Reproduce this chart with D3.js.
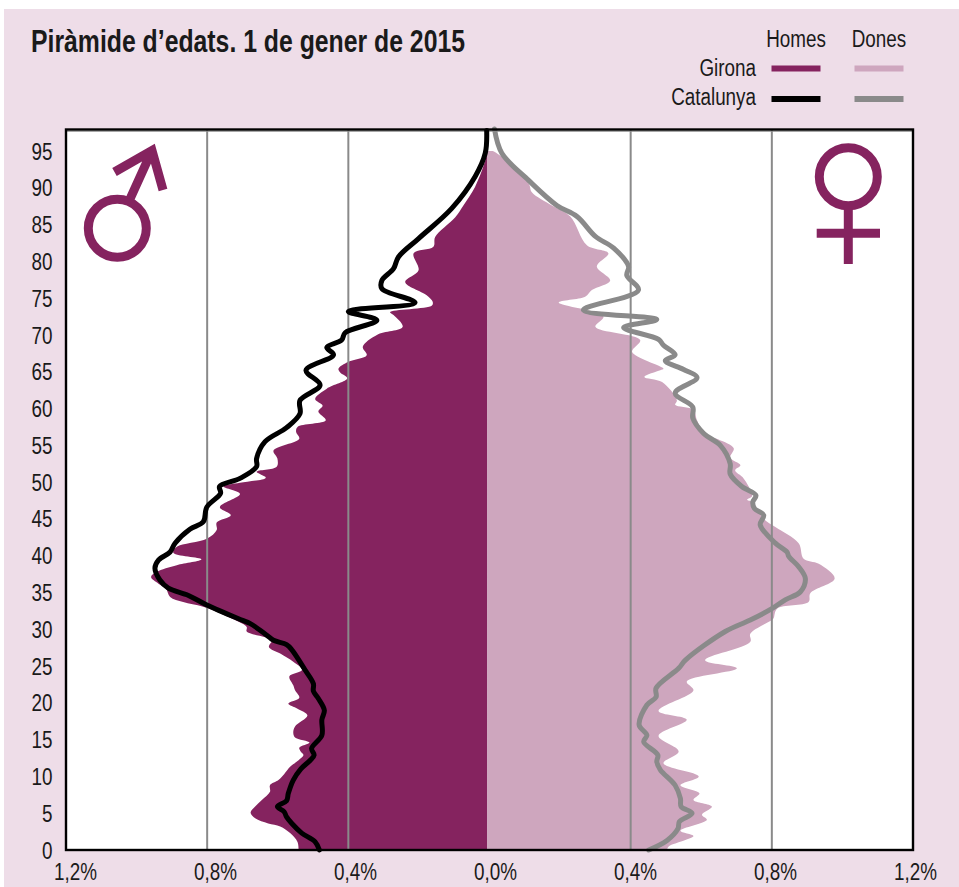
<!DOCTYPE html>
<html><head><meta charset="utf-8">
<style>html,body{margin:0;padding:0;background:#fff}svg{display:block}text{font-family:"Liberation Sans",sans-serif;fill:#1a1a1a}</style>
<script src="https://cdn.jsdelivr.net/npm/d3@7"></script></head><body>
<script>
const chartTitle="Piràmide d’edats. 1 de gener de 2015";
const ageTicks=d3.range(0,96,5);
const pctTicks=[-1.2,-0.8,-0.4,0,0.4,0.8,1.2];
const gridTicks=[-0.8,-0.4,0.4,0.8];
const spine=-0.006;

const gironaMenAge=[0,1.1,2.3,3.2,3.6,4.3,5.1,5.9,6.8,7.9,8.8,9.5,10.3,11.3,12.2,12.9,13.4,13.9,14.6,15.3,15.9,16.8,18.3,19.2,19.9,20.7,21.7,22.4,23.6,24.5,25.6,26.7,27.6,28.5,29.7,30.3,31.25,33.06,33.7,34.4,35.55,36.2,37.1,37.8,38.7,39.5,40.4,41.2,42.3,43.5,44.5,45.5,46.6,48.4,49.4,49.9,50.6,51.4,52.1,53.2,54.3,55.9,56.8,57.5,58.4,59.6,60.4,61.3,62.7,64.1,64.9,65.4,66.35,67.25,68.4,70,71.1,72.7,73.1,74,74.5,75.4,77.2,78.8,81.1,82,83.3,86,87.6,90.1,94,95];
const gironaMen=[.541,.544,.565,.593,.627,.664,.677,.664,.645,.622,.622,.598,.582,.565,.541,.527,.535,.539,.510,.551,.556,.551,.516,.544,.570,.539,.551,.556,.567,.531,.556,.593,.625,.617,.688,.688,.721,.811,.868,.905,.917,.938,.959,.943,.886,.816,.896,.886,.801,.773,.773,.733,.764,.707,.754,.707,.634,.660,.603,.601,.612,.539,.548,.544,.464,.485,.473,.494,.461,.403,.423,.428,.400,.348,.359,.319,.246,.272,.282,.163,.161,.178,.239,.201,.215,.159,.154,.097,.074,.041,.010,.006];

const catalunyaMenAge=[0,1.1,2.3,3.6,4.5,5.2,5.9,6.7,7.7,9.5,11,12.2,12.9,13.8,15.6,17.7,19,20.6,21.6,22.6,24.5,27.2,27.9,28.5,29.2,30.8,31.25,33.3,34.6,35.6,36.7,38.3,39.4,40.5,41.7,43.6,44.6,46.6,48.5,49.4,50.5,52.1,53.2,55.5,57.4,59.3,61.1,63.2,65.2,67.3,68.3,69.3,70.3,72,73.2,74.4,76.3,77.4,79,80.6,83.1,87.2,91.5,94.7,97.8];
const catalunyaMen=[.482,.494,.532,.560,.575,.582,.601,.575,.570,.556,.535,.508,.497,.504,.475,.475,.468,.485,.499,.499,.523,.560,.575,.612,.631,.679,.702,.801,.853,.910,.934,.948,.938,.905,.891,.849,.811,.801,.762,.765,.707,.660,.660,.636,.575,.537,.537,.480,.520,.442,.461,.419,.409,.319,.400,.211,.305,.305,.272,.258,.201,.107,.041,.012,.008];

const gironaWomenAge=[0,.45,1.35,1.9,2.6,4.1,4.8,5.9,6.8,7.7,8.8,10,11.8,13.4,15.5,17.7,18.9,21.7,22.9,24.7,25.8,28.3,29.4,31.25,31.5,32.8,33.7,34.9,36.9,38.9,39.6,41.7,43.9,45,47.3,47.6,48.1,50.5,51.6,52.3,53.3,54.6,55.8,56.4,58.4,59.8,60.5,61.1,63.6,64.3,65.2,65.4,67.7,69.3,71.1,72.5,74.4,75.2,76.1,77.4,79.3,81.1,82.2,86.1,87.6,89.4,90.6,94.2,95];
const gironaWomen=[.503,.507,.555,.578,.541,.616,.602,.630,.578,.595,.541,.593,.493,.536,.479,.559,.479,.578,.559,.701,.611,.739,.739,.800,.805,.815,.904,.909,.978,.933,.890,.876,.810,.777,.744,.730,.744,.720,.696,.711,.682,.692,.649,.611,.588,.578,.526,.531,.489,.439,.484,.493,.404,.427,.300,.323,.196,.271,.290,.342,.304,.337,.276,.229,.177,.120,.111,.035,.010];

const catalunyaWomenAge=[0,1.3,2.9,3.85,5,5.9,7,8.8,10.9,12,12.9,14.7,15.6,17,19.7,20.8,22,24.7,25.8,29.7,31.25,32.8,34,35.1,36.9,38.5,39.9,40.5,41.7,44.2,45.5,46.4,47.3,48.2,49.4,51.1,52.5,55,56.6,58.7,60.2,62.1,64.2,65.3,66.5,67.3,68.6,69.4,71,72.1,73.4,76.1,78.1,79.3,81.8,83.4,86.1,87.6,91,94.7,98];
const catalunyaWomen=[.451,.503,.534,.538,.574,.543,.541,.526,.484,.474,.477,.437,.446,.424,.446,.472,.472,.536,.555,.668,.739,.800,.838,.881,.895,.876,.848,.843,.810,.767,.777,.751,.746,.755,.715,.682,.682,.654,.607,.576,.576,.526,.588,.550,.498,.526,.493,.479,.380,.474,.266,.422,.389,.394,.352,.300,.248,.191,.111,.035,.014];

const colors={panel:"#EEDDE8",girM:"#85235F",girF:"#CEA6BE",catM:"#000",catF:"#8A8A8A",grid:"#8A8A8A"};
const W=959,H=887;
const labelSize="23px";
const narrow="scale(0.82,1)";
const svg=d3.select("body").append("svg").attr("width",W).attr("height",H);
svg.append("rect").attr("x",4).attr("y",9).attr("width",W-4).attr("height",H-9).attr("fill",colors.panel);

const x=d3.scaleLinear().domain([-1.2,1.2]).range([66,913]);
const xLabel=d3.scaleLinear().domain([-1.2,1.2]).range([75,915]);
const y=d3.scaleLinear().domain([0,95]).range([850,151]);
const plotTop=y.invert(129.5);
svg.append("rect").attr("x",x(-1.2)).attr("y",y(plotTop)).attr("width",x(1.2)-x(-1.2)).attr("height",y(0)-y(plotTop)).attr("fill","#fff");

const pairs=(ages,vals,s)=>ages.map((a,i)=>[a,s*vals[i]]);
const curve=d3.curveCatmullRom.alpha(0.5);
const area=d3.area().x0(x(spine)).x1(d=>x(d[1])).y(d=>y(d[0])).curve(curve);
const line=d3.line().x(d=>x(d[1])).y(d=>y(d[0])).curve(curve);

svg.append("path").attr("d",area(pairs(gironaMenAge,gironaMen,-1))).attr("fill",colors.girM);
svg.append("path").attr("d",area(pairs(gironaWomenAge,gironaWomen,1))).attr("fill",colors.girF);

svg.selectAll("line.grid").data(gridTicks).join("line").attr("class","grid")
 .attr("x1",d=>x(d)).attr("x2",d=>x(d)).attr("y1",y(plotTop)).attr("y2",y(0))
 .attr("stroke",colors.grid).attr("stroke-width",2);
svg.append("line").attr("x1",x(-1.2)).attr("x2",x(1.2)).attr("y1",y(plotTop)+1.6).attr("y2",y(plotTop)+1.6).attr("stroke",colors.grid).attr("stroke-width",1.2);

svg.append("defs").append("clipPath").attr("id","plot").append("rect").attr("x",x(-1.2)).attr("y",124).attr("width",x(1.2)-x(-1.2)).attr("height",y(0)-124+4);
const lines=svg.append("g").attr("clip-path","url(#plot)");
lines.append("path").attr("d",line(pairs(catalunyaWomenAge,catalunyaWomen,1))).attr("fill","none").attr("stroke",colors.catF).attr("stroke-width",5).attr("stroke-linejoin","round").attr("stroke-linecap","round");
lines.append("path").attr("d",line(pairs(catalunyaMenAge,catalunyaMen,-1))).attr("fill","none").attr("stroke",colors.catM).attr("stroke-width",5).attr("stroke-linejoin","round").attr("stroke-linecap","round");

svg.append("rect").attr("x",x(-1.2)).attr("y",y(plotTop)).attr("width",x(1.2)-x(-1.2)).attr("height",y(0)-y(plotTop)).attr("fill","none").attr("stroke","#000").attr("stroke-width",2.4);

// axes
const yAxis=svg.append("g").attr("transform","translate(52.5,0)").call(d3.axisLeft(y).tickValues(ageTicks).tickSize(0).tickPadding(0).tickFormat(d3.format("d")));
yAxis.select(".domain").remove();
yAxis.selectAll("text").attr("x",0).attr("transform",narrow).style("font-size",labelSize).attr("dy","0.35em");
const xAxis=svg.append("g").attr("transform","translate(0,859)").call(d3.axisBottom(xLabel).tickValues(pctTicks).tickSize(0).tickPadding(0)
 .tickFormat(d=>Math.abs(d).toFixed(1).replace(".",",")+"%"));
xAxis.select(".domain").remove();
xAxis.selectAll("text").attr("transform",narrow).style("font-size",labelSize).attr("dy","0.9em");

// title + legend
svg.append("text").attr("x",31).attr("y",52).attr("textLength",434).attr("lengthAdjust","spacingAndGlyphs").style("font-size","31px").style("font-weight","700").text(chartTitle);
const legendCols=[{name:"Homes",cx:796,colors:[colors.girM,colors.catM]},{name:"Dones",cx:879,colors:[colors.girF,colors.catF]}];
const legendRows=[{name:"Girona",cy:68.5,base:76},{name:"Catalunya",cy:99,base:105}];
legendCols.forEach(c=>{
 svg.append("text").attr("transform",`translate(${c.cx},47) ${narrow}`).attr("text-anchor","middle").style("font-size",labelSize).text(c.name);
 legendRows.forEach((r,i)=>svg.append("rect").attr("x",c.cx-24.5).attr("y",r.cy-3).attr("width",49).attr("height",6).attr("fill",c.colors[i]));
});
legendRows.forEach(r=>svg.append("text").attr("transform",`translate(756,${r.base}) ${narrow}`).attr("text-anchor","end").style("font-size",labelSize).text(r.name));

// gender symbols
const sym=svg.append("g").attr("fill","none").attr("stroke",colors.girM).attr("stroke-width",9);
sym.append("circle").attr("cx",117.3).attr("cy",228.3).attr("r",29);
sym.append("path").attr("d","M130,199L152,150.5M114.5,172L152,150.5L163,190").attr("stroke-linejoin","miter");
sym.append("circle").attr("cx",848.3).attr("cy",176.7).attr("r",29);
sym.append("path").attr("d","M848.3,206V264M816.7,233.3H880");
</script></body></html>
